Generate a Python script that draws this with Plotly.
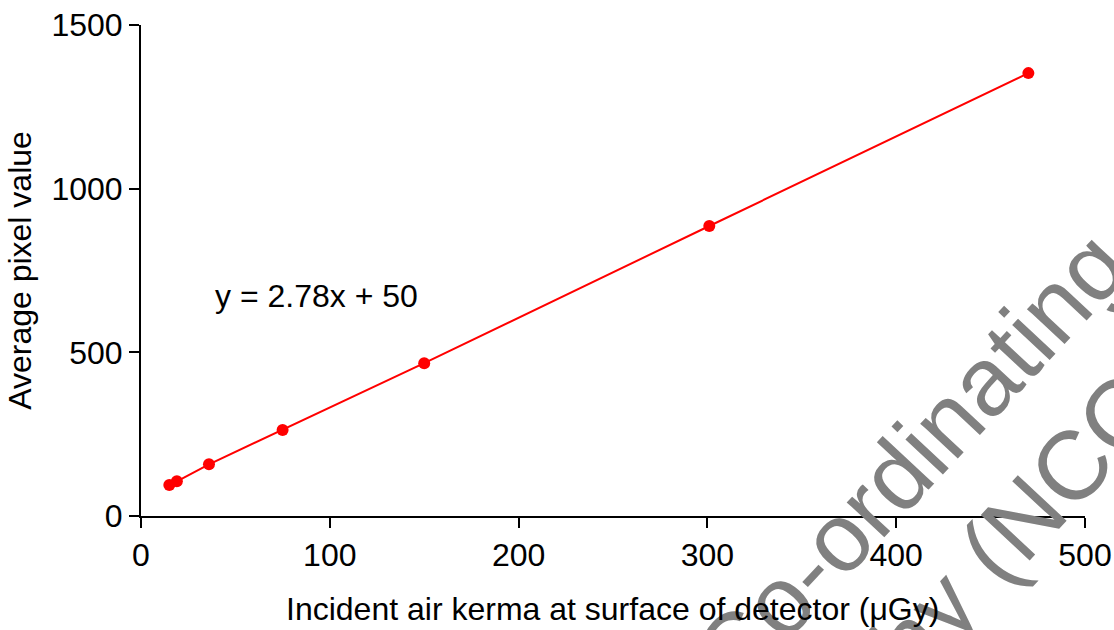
import plotly.graph_objects as go

# Data
kerma_uGy = [15, 19, 36, 75, 150, 301, 470]
pixel_value = [95, 106, 158, 263, 467, 886, 1353]

x_ticks = [0, 100, 200, 300, 400, 500]
y_ticks = [0, 500, 1000, 1500]

x_title = "Incident air kerma at surface of detector (μGy)"
y_title = "Average pixel value"
equation_text = "y = 2.78x + 50"
watermark_line1 = "Co-ordinating"
watermark_line2 = "ography (NCCPM)"

FONT = "Arial, 'Liberation Sans', sans-serif"

fig = go.Figure()
fig.add_trace(go.Scatter(
    x=kerma_uGy, y=pixel_value,
    mode="lines+markers",
    line=dict(color="#FF0000", width=2),
    marker=dict(color="#FF0000", size=12),
    showlegend=False,
    hoverinfo="x+y",
))

W, H = 1114, 630
L, R, T, B = 141, 29, 25, 114
PW, PH = W - L - R, H - T - B

def px_to_paper(px, py):
    return (px - L) / PW, (H - B - py) / PH

annotations = [
    dict(x=38, y=672, xref="x", yref="y", text=equation_text, showarrow=False,
         xanchor="left", yanchor="middle", font=dict(family=FONT, size=32, color="black")),
]
# Grey watermark (drawn before the x-axis title so the title sits on top, as in the reference)
wx1, wy1 = px_to_paper(910, 460)
wx2, wy2 = px_to_paper(992, 551)
for (wx, wy, txt) in [(wx1, wy1, watermark_line1), (wx2, wy2, watermark_line2)]:
    annotations.append(dict(
        x=wx, y=wy, xref="paper", yref="paper", text=txt, showarrow=False,
        xanchor="center", yanchor="middle", textangle=-47,
        font=dict(family=FONT, size=97, color="#808080"),
    ))
tx, ty = px_to_paper(612, 609)
annotations.append(dict(
    x=tx, y=ty, xref="paper", yref="paper", text=x_title, showarrow=False,
    xanchor="center", yanchor="middle",
    font=dict(family=FONT, size=32, color="black"),
))

fig.update_layout(
    width=W, height=H,
    margin=dict(l=L, r=R, t=T, b=B, autoexpand=False),
    paper_bgcolor="white", plot_bgcolor="white",
    font=dict(family=FONT, color="black"),
    annotations=annotations,
)
fig.update_xaxes(
    range=[0, 500], tickvals=x_ticks, showgrid=False, zeroline=False,
    showline=True, linecolor="black", linewidth=2, automargin=False,
    ticks="outside", ticklen=10, tickwidth=2, tickcolor="black",
    tickfont=dict(family=FONT, size=32, color="black"),
)
fig.update_yaxes(
    range=[0, 1500], tickvals=y_ticks, showgrid=False, zeroline=False,
    showline=True, linecolor="black", linewidth=2, automargin=False,
    ticks="outside", ticklen=10, tickwidth=2, tickcolor="black",
    tickfont=dict(family=FONT, size=32, color="black"),
    title=dict(text=y_title,
               font=dict(family=FONT, size=32, color="black"), standoff=10),
)

fig.write_html("out.html")
